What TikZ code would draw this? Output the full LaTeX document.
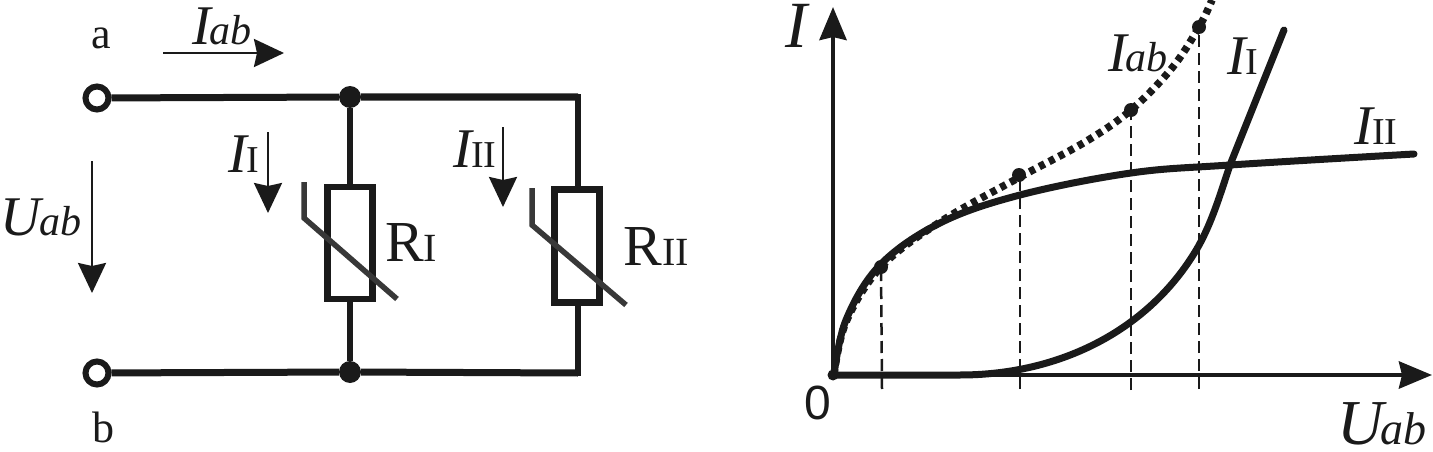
\documentclass[tikz,border=0pt]{standalone}
\usepackage{fontspec}
\setmainfont{Liberation Serif}
\newfontfamily\zerofont{Liberation Sans}
\usetikzlibrary{arrows.meta}
\definecolor{ink}{HTML}{1A1A1A}
\newcommand{\Iab}{{\fontsize{56}{56}\selectfont\itshape I\kern-1pt}{\fontsize{42}{42}\selectfont\itshape ab}}
\newcommand{\Uab}{{\fontsize{56}{56}\selectfont\itshape U\kern-2pt}{\fontsize{42}{42}\selectfont\itshape ab}}
\newcommand{\Ione}{{\fontsize{56}{56}\selectfont\itshape I\kern-1pt}{\fontsize{38}{38}\selectfont I}}
\newcommand{\Itwo}{{\fontsize{56}{56}\selectfont\itshape I\kern-1pt}{\fontsize{38}{38}\selectfont II}}
\newcommand{\Rone}{{\fontsize{58}{58}\selectfont R}{\fontsize{40}{40}\selectfont I}}
\newcommand{\Rtwo}{{\fontsize{58}{58}\selectfont R}{\fontsize{40}{40}\selectfont II}}
\tikzset{
  wire/.style={line width=7pt,ink},
  thinwire/.style={line width=6pt,ink},
  terminal/.style={circle,draw=ink,line width=6pt,fill=white,minimum size=23pt,inner sep=0pt},
  junction/.style={circle,fill=ink,minimum size=22pt,inner sep=0pt},
  res/.style={rectangle,draw=ink,line width=6.5pt,fill=white,inner sep=0pt},
  slash/.style={line width=5.5pt,draw=black!78},
  arrow/.style={line width=2.5pt,ink,-{Stealth[length=30pt,width=28pt,inset=3pt]}},
  axis/.style={line width=4.5pt,ink,-{Stealth[length=33pt,width=27pt,inset=3pt]}},
  curve/.style={line width=7pt,ink,line cap=round},
  drop/.style={line width=2.5pt,ink,dash pattern=on 12pt off 6pt},
  dot/.style={circle,fill=ink,minimum size=14pt,inner sep=0pt},
  txt/.style={inner sep=0pt,ink}
}
\begin{document}
\begin{tikzpicture}[x=1pt,y=-1pt]
\useasboundingbox (0,0) rectangle (1433,452);
% circuit
\node[terminal] (a) at (97,98) {};
\node[terminal] (b) at (97,373) {};
\node[junction] (j1) at (350,97) {};
\node[junction] (j2) at (350,372) {};
\coordinate (c1) at (578,97);
\coordinate (c2) at (578,373);
\node[res,minimum width=45pt,minimum height=112pt] (r1) at (350,243) {};
\node[res,minimum width=45pt,minimum height=113pt] (r2) at (577,246) {};
\draw[wire] (a) -- (j1) -- (c1);
\draw[wire] (b) -- (j2) -- (c2);
\draw[thinwire] (j1) -- (r1.north);
\draw[thinwire] (j2) -- (r1.south);
\draw[thinwire,line cap=rect] (c1) -- (r2.north -| c1);
\draw[thinwire,line cap=rect] (c2) -- (r2.south -| c2);
\coordinate (s1a) at (304,182); \coordinate (s1b) at (304,218); \coordinate (s1c) at (397,299);
\coordinate (s2a) at (532,188); \coordinate (s2b) at (532,225); \coordinate (s2c) at (626,305);
\draw[slash] (s1a) -- (s1b) -- (s1c);
\draw[slash] (s2a) -- (s2b) -- (s2c);
\coordinate (ia1) at (163,53); \coordinate (ia2) at (284,53);
\coordinate (i11) at (268,132); \coordinate (i12) at (268,213);
\coordinate (i21) at (503,127); \coordinate (i22) at (503,207);
\coordinate (u1) at (92,161); \coordinate (u2) at (92,293);
\draw[arrow] (ia1) -- (ia2);
\draw[arrow] (i11) -- (i12);
\draw[arrow] (i21) -- (i22);
\draw[arrow] (u1) -- (u2);
\node[txt] (la) at (101,38) {\fontsize{44}{44}\selectfont a};
\node[txt] (lb) at (103,427) {\fontsize{44}{44}\selectfont b};
\node[txt] (liab) at (222,26) {\Iab};
\node[txt] (luab) at (41,217) {\Uab};
\node[txt] (li1) at (244,154) {\Ione};
\node[txt] (li2) at (475,149) {\Itwo};
\node[txt] (lr1) at (411,243) {\Rone};
\node[txt] (lr2) at (656,247) {\Rtwo};
% graph
\coordinate (O) at (833,375);
\coordinate (xe) at (1432,375);
\coordinate (ye) at (833,7);
\coordinate (p1) at (881,267);
\coordinate (p2) at (1020,177);
\coordinate (p3) at (1131,110);
\coordinate (p4) at (1199,27);
\draw[drop] (882,389) -- (p1);
\draw[drop] (1020,389) -- (p2);
\draw[drop] (1131,390) -- (p3);
\draw[drop] (1199,389) -- (p4);
\draw[axis] (O) -- (xe);
\draw[axis] (O) -- (ye);
\draw[line width=7.5pt,ink,dash pattern=on 6pt off 5pt] plot[smooth,tension=.6] coordinates {(834,375) (846,322) (881,267) (940,222) (1020,177) (1085,142) (1131,110) (1172,68) (1199,27) (1212,0)};
\draw[curve] plot[smooth,tension=.6] coordinates {(834,375) (846,320) (880,265) (940,223) (1020,195) (1131,173) (1230,165) (1414,154)};
\draw[curve] (O) -- (960,375) .. controls (1060,375) and (1150,330) .. (1198,247) .. controls (1212,222) and (1220,195) .. (1230,165) -- (1284,30);
\node[dot,minimum size=11pt] (d0) at (O) {};
\node[dot] (d1) at (p1) {};
\node[dot] (d2) at (1019,175) {};
\node[dot] (d3) at (p3) {};
\node[dot] (d4) at (p4) {};
\node[txt] (gi) at (796,26) {\fontsize{66}{66}\selectfont\itshape I};
\node[txt] (gz) at (818,403) {\zerofont\fontsize{48}{48}\selectfont 0};
\node[txt] (giab) at (1138,53) {\Iab};
\node[txt] (gi1) at (1243,56) {\Ione};
\node[txt] (gi2) at (1376,126) {\Itwo};
\node[txt] (guab) at (1382,424) {\fontsize{64}{64}\selectfont\itshape U\kern-3pt\fontsize{46}{46}\selectfont\itshape ab};
\end{tikzpicture}
\end{document}
